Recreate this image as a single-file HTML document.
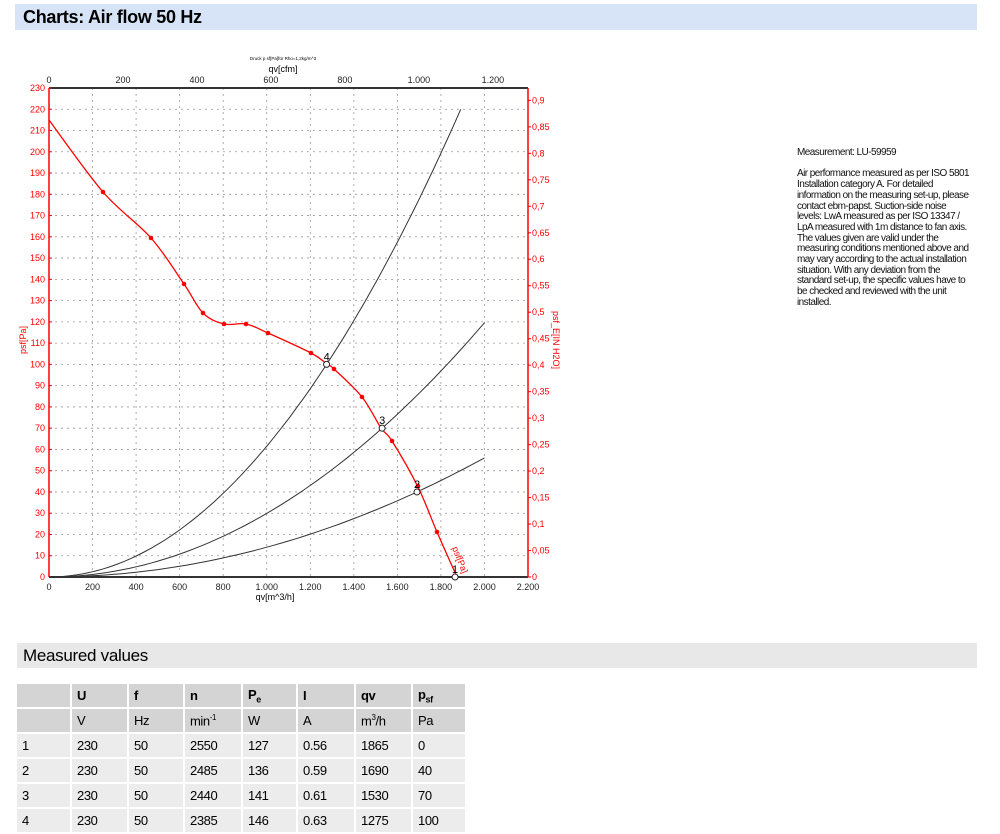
<!DOCTYPE html>
<html><head><meta charset="utf-8"><style>
body{margin:0;width:1000px;height:829px;background:#fff;font-family:"Liberation Sans",sans-serif;position:relative;overflow:hidden}
.bar1{position:absolute;left:15px;top:4px;width:962px;height:26px;background:#d7e4f7}
.bar1 span{position:absolute;left:8px;top:3px;font-size:18px;font-weight:bold;letter-spacing:-0.3px}
.bar2{position:absolute;left:17px;top:643px;width:960px;height:25px;background:#e8e8e8}
.bar2 span{position:absolute;left:6px;top:3px;font-size:17px;letter-spacing:-0.3px}
.txt{position:absolute;left:797px;top:148px;font-size:10px;line-height:10.7px;letter-spacing:-0.55px;color:#111;white-space:nowrap}
table{position:absolute;left:15px;top:682px;border-collapse:separate;border-spacing:2px;font-size:13px;letter-spacing:-0.4px;table-layout:fixed}
td{height:23px;padding:0 0 0 5px;background:#ececec}
tr.h td{background:#d4d4d4}
tr.h1 td{font-weight:bold}
svg{position:absolute;left:0;top:0}
</style></head><body>
<div class="bar1"><span>Charts: Air flow 50 Hz</span></div>
<div class="txt">Measurement: LU-59959<br><br>Air performance measured as per ISO 5801<br>Installation category A. For detailed<br>information on the measuring set-up, please<br>contact ebm-papst. Suction-side noise<br>levels: LwA measured as per ISO 13347 /<br>LpA measured with 1m distance to fan axis.<br>The values given are valid under the<br>measuring conditions mentioned above and<br>may vary according to the actual installation<br>situation. With any deviation from the<br>standard set-up, the specific values have to<br>be checked and reviewed with the unit<br>installed.</div>
<svg id="c" width="1000" height="640" font-family="Liberation Sans, sans-serif"></svg>
<div class="bar2"><span>Measured values</span></div>
<table>
<tr class="h h1"><td style="width:48px"></td><td style="width:50px">U</td><td style="width:49px">f</td><td style="width:51px">n</td><td style="width:48px">P<sub style="font-size:9px">e</sub></td><td style="width:51px">I</td><td style="width:50px">qv</td><td style="width:47px">p<sub style="font-size:9px">sf</sub></td></tr>
<tr class="h"><td></td><td>V</td><td>Hz</td><td>min<sup style="font-size:8px">-1</sup></td><td>W</td><td>A</td><td>m<sup style="font-size:8px">3</sup>/h</td><td>Pa</td></tr>
<tr><td>1</td><td>230</td><td>50</td><td>2550</td><td>127</td><td>0.56</td><td>1865</td><td>0</td></tr>
<tr><td>2</td><td>230</td><td>50</td><td>2485</td><td>136</td><td>0.59</td><td>1690</td><td>40</td></tr>
<tr><td>3</td><td>230</td><td>50</td><td>2440</td><td>141</td><td>0.61</td><td>1530</td><td>70</td></tr>
<tr><td>4</td><td>230</td><td>50</td><td>2385</td><td>146</td><td>0.63</td><td>1275</td><td>100</td></tr>
</table>
<script>
const s=document.getElementById('c');let h='';
const X=q=>49+q*479/2200, Y=p=>577-p*489/230;
for(let q=200;q<2200;q+=200)h+=`<line x1="${X(q)}" y1="88" x2="${X(q)}" y2="577" stroke="#999" stroke-width="0.8" stroke-dasharray="2,4"/>`;
for(let p=10;p<230;p+=10)h+=`<line x1="49" y1="${Y(p)}" x2="528" y2="${Y(p)}" stroke="#999" stroke-width="0.8" stroke-dasharray="2,4"/>`;
h+=`<line x1="49" y1="88" x2="528" y2="88" stroke="#333" stroke-width="2"/><line x1="49" y1="577" x2="528" y2="577" stroke="#333" stroke-width="2"/>`;
h+=`<line x1="49" y1="88" x2="49" y2="577" stroke="red" stroke-width="1.5"/><line x1="528" y1="88" x2="528" y2="577" stroke="red" stroke-width="1.5"/>`;
for(let p=0;p<=230;p+=10)h+=`<text x="45" y="${Y(p)+3}" font-size="9" fill="red" text-anchor="end">${p}</text><line x1="49" y1="${Y(p)}" x2="52" y2="${Y(p)}" stroke="red"/>`;
for(let i=0;i<=18;i++){const v=i*0.05,y=Y(v*249.09);h+=`<line x1="528" y1="${y}" x2="531" y2="${y}" stroke="red"/><text x="532" y="${y+3}" font-size="9" fill="red">${v==0?'0':v.toFixed(2).replace(/0$/,'').replace('.',',')}</text>`;}
for(let q=0;q<=2200;q+=200)h+=`<text x="${X(q)}" y="590" font-size="9" fill="#222" text-anchor="middle">${q>=1000?(q/1000).toFixed(3):q}</text>`;
for(let c=0;c<=1200;c+=200){const x=X(c*1.699);h+=`<text x="${x}" y="83" font-size="9" fill="#222" text-anchor="middle">${c>=1000?(c/1000).toFixed(3):c}</text>`;}
h+=`<text x="275" y="600" font-size="9" text-anchor="middle">qv[m^3/h]</text><text x="283" y="72" font-size="9" text-anchor="middle">qv[cfm]</text><text x="283" y="60" font-size="4.5" text-anchor="middle">Druck p sf[Pa]für Rho=1,2kg/m^3</text>`;
h+=`<text transform="translate(26,340) rotate(-90)" font-size="9" fill="red" text-anchor="middle">psf[Pa]</text><text transform="translate(553,340) rotate(90)" font-size="9" fill="red" text-anchor="middle">psf_E[IN H2O]</text>`;
function sys(q0,p0,qe){let d='';for(let i=0;i<=60;i++){const q=qe*i/60,p=p0*(q/q0)**2;d+=(i?'L':'M')+X(q).toFixed(1)+','+Y(p).toFixed(1);}return `<path d="${d}" fill="none" stroke="#333" stroke-width="1"/>`;}
h+=sys(1275,100,1891)+sys(1530,70,2000)+sys(1690,40,2000);
const P=[[49,120],[103,192],[151,238],[184,284],[203,313],[224,324],[246,324],[268,333],[311,353],[327,364],[334,369],[362,397],[381,428],[392,441],[418,487],[437,532],[457,577]];
let d=`M${P[0]}`;for(let i=0;i<P.length-1;i++){const a=P[Math.max(i-1,0)],b=P[i],c=P[i+1],e=P[Math.min(i+2,P.length-1)];d+=`C${b[0]+(c[0]-a[0])/6},${b[1]+(c[1]-a[1])/6} ${c[0]-(e[0]-b[0])/6},${c[1]-(e[1]-b[1])/6} ${c[0]},${c[1]}`;}
h+=`<path d="${d}" fill="none" stroke="red" stroke-width="1.3"/>`;
[[103,192],[151,238],[184,284],[203,313],[224,324],[246,324],[268,333],[311,353],[334,369],[362,397],[392,441],[418,486],[437,532]].forEach(p=>h+=`<circle cx="${p[0]}" cy="${p[1]}" r="2.3" fill="red"/>`);
[[X(1275),Y(100),'4'],[X(1530),Y(70),'3'],[X(1690),Y(40),'2'],[X(1865),Y(0),'1']].forEach(p=>h+=`<circle cx="${p[0]}" cy="${p[1]}" r="3" fill="#fff" stroke="#222"/><text x="${p[0]-3}" y="${p[1]-4}" font-size="11">${p[2]}</text>`);
h+=`<text transform="translate(452,548) rotate(68)" font-size="9" fill="red">psf[Pa]</text>`;
s.innerHTML=h;
</script>
</body></html>
